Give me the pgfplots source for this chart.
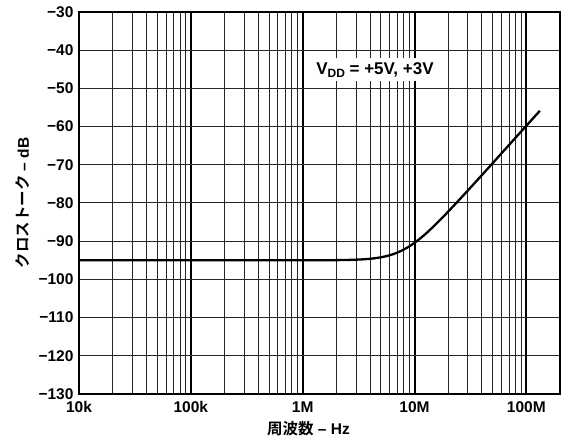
\documentclass[border=0pt]{standalone}
\usepackage{pgfplots}
\pgfplotsset{compat=1.18}
\usepackage{fontspec}
\setmainfont{Liberation Sans}
\newfontfamily\jp{Noto Sans CJK JP}[BoldFont={Noto Sans CJK JP Bold}]

% Crosstalk versus frequency
\pgfplotstableread{
f        db
1e4      -95.00
1e5      -95.00
1e6      -95.00
2e6      -94.96
3e6      -94.84
4e6      -94.61
5e6      -94.22
6e6      -93.69
7e6      -93.00
8e6      -92.20
9e6      -91.34
1e7      -90.42
1.1e7    -89.50
1.2e7    -88.59
1.3e7    -87.69
1.5e7    -85.98
1.7e7    -84.39
2e7      -82.26
2.5e7    -79.23
3e7      -76.72
4e7      -72.71
5e7      -69.57
6e7      -66.99
7e7      -64.82
8e7      -62.93
1e8      -59.78
1.32e8   -55.87
}\crosstalk

\newcommand\lbl{\fontsize{15.5}{18}\selectfont\bfseries}

\begin{document}
\begin{tikzpicture}
\begin{axis}[
  name=ax,
  scale only axis,
  width=481pt, height=382pt,
  xmode=log,
  xmin=1e4, xmax=2e8,
  ymin=-130, ymax=-30,
  xtick={1e4,1e5,1e6,1e7,1e8},
  xticklabels={10k,100k,1M,10M,100M},
  minor xtick={2e4,3e4,4e4,5e4,6e4,7e4,8e4,9e4,
               2e5,3e5,4e5,5e5,6e5,7e5,8e5,9e5,
               2e6,3e6,4e6,5e6,6e6,7e6,8e6,9e6,
               2e7,3e7,4e7,5e7,6e7,7e7,8e7,9e7,
               2e8},
  ytick={-130,-120,-110,-100,-90,-80,-70,-60,-50,-40,-30},
  yticklabels={−130,−120,−110,−100,−90,−80,−70,−60,−50,−40,−30},
  major tick length=0pt, minor tick length=0pt,
  xmajorgrids, xminorgrids, ymajorgrids,
  major x grid style={black, line width=2pt},
  minor x grid style={black!85, line width=1pt},
  major y grid style={black!85, line width=1pt},
  axis line style={black, line width=1.5pt},
  ticklabel style={font=\lbl},
  yticklabel style={xshift=-2pt},
  xticklabel style={yshift=-4pt},
]
\addplot[black, line width=2.3pt, smooth] table[x=f, y=db] {\crosstalk};
\node[fill=white, inner xsep=12pt, inner ysep=4pt,
      font=\fontsize{17}{19}\selectfont\bfseries]
  at (axis cs:4.43e6,-45.1)
  {V\raisebox{-3pt}{\fontsize{12}{12}\selectfont DD} = +5V, +3V};
\end{axis}
% axis titles
\node[font=\lbl, anchor=north] at ([xshift=-11pt, yshift=-24pt]ax.south)
  {{\jp\bfseries 周波数} – Hz};
\node[font=\lbl, rotate=90, anchor=center] at ([xshift=-56pt]ax.west)
  {{\jp\bfseries クロストーク} – dB};
\pgfresetboundingbox
\path[use as bounding box]
  ([shift={(-79pt,-49pt)}]ax.south west) rectangle
  ([shift={(2pt,12pt)}]ax.north east);
\end{tikzpicture}
\end{document}
